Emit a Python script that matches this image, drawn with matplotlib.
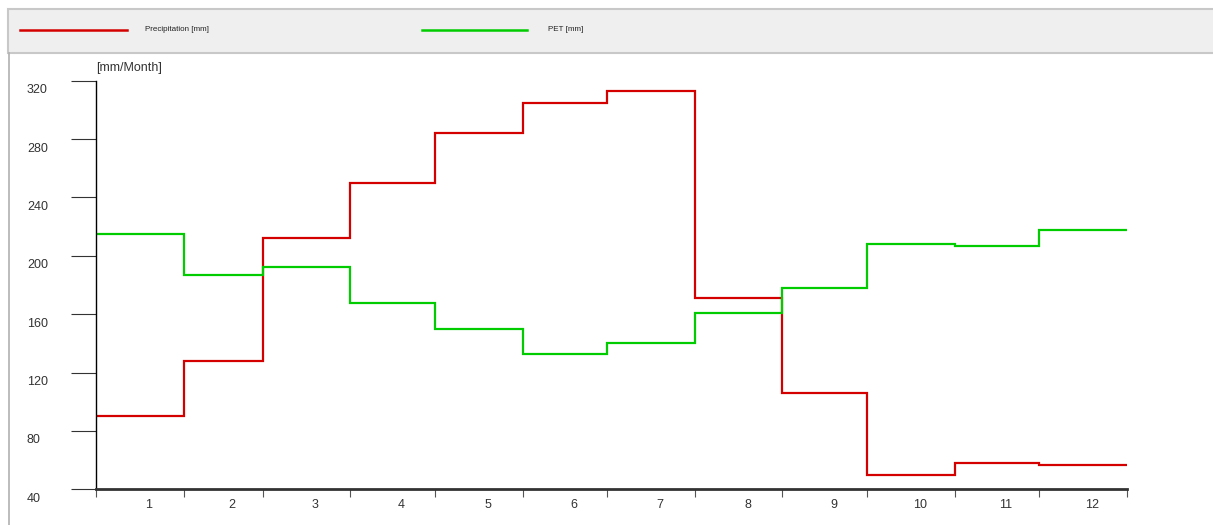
import numpy as np
import matplotlib.pyplot as plt
from matplotlib.lines import Line2D
from matplotlib.patches import Rectangle
from matplotlib.transforms import ScaledTranslation

plt.rcParams['font.family'] = ['Liberation Sans', 'DejaVu Sans']

# monthly values
months = ['1', '2', '3', '4', '5', '6', '7', '8', '9', '10', '11', '12']
days_in_month = [31, 28, 31, 30, 31, 30, 31, 31, 30, 31, 30, 31]
precipitation = [90, 128, 212, 250, 284, 305, 313, 171, 106, 50, 58, 56.5]
pet = [215, 187, 192, 168, 150, 133, 140, 161, 178, 208, 207, 218]
y_ticks = [40, 80, 120, 160, 200, 240, 280, 320]

red = '#d40000'
green = '#00cc00'

edges = np.concatenate([[0], np.cumsum(days_in_month)])
mids = (edges[:-1] + edges[1:]) / 2

W, H = 1213, 525
fig = plt.figure(figsize=(W / 100, H / 100), dpi=100)
ax = fig.add_axes([96 / W, 1 - 489.3 / H, (1127 - 96) / W, (489.3 - 80.7) / H])

ax.stairs(precipitation, edges, baseline=None, color=red, lw=1.6)
ax.stairs(pet, edges, baseline=None, color=green, lw=1.6)

ax.set_xlim(edges[0], edges[-1])
ax.set_ylim(y_ticks[0], y_ticks[-1])

for s in ['top', 'right']:
    ax.spines[s].set_visible(False)
ax.spines['bottom'].set_color('#333333')
ax.spines['bottom'].set_linewidth(2.0)
ax.spines['left'].set_color('black')
ax.spines['left'].set_linewidth(1.0)

# x: ticks on month boundaries, labels in the middle of each month
ax.set_xticks(edges)
ax.set_xticklabels([])
ax.set_xticks(mids, minor=True)
ax.set_xticklabels(months, minor=True)
ax.tick_params(axis='x', which='major', length=6, width=0.8, color='#555555')
ax.tick_params(axis='x', which='minor', length=0, pad=7, labelsize=9, labelcolor='#333333')
shift_x = ScaledTranslation(9 / 100, 0, fig.dpi_scale_trans)
for lab in ax.get_xticklabels(minor=True):
    lab.set_transform(lab.get_transform() + shift_x)

# y: long outward ticks, labels left aligned and sitting a bit under the tick
ax.set_yticks(y_ticks)
ax.set_yticklabels([str(v) for v in y_ticks])
ax.tick_params(axis='y', length=18, width=0.8, color='#333333', pad=31.7,
               labelsize=9, labelcolor='#333333')
shift_y = ScaledTranslation(0, -8 / 100, fig.dpi_scale_trans)
for lab in ax.get_yticklabels():
    lab.set_horizontalalignment('left')
    lab.set_transform(lab.get_transform() + shift_y)

ax.annotate('[mm/Month]', xy=(0, 1), xycoords='axes fraction',
            xytext=(0, 9.5), textcoords='offset points',
            ha='left', va='center', fontsize=9, color='#333333')

# legend band at the top and the frame line on the left
fig.add_artist(Rectangle((8 / W, 1 - 53 / H), 1.0, 44 / H, transform=fig.transFigure,
                         facecolor='#efefef', edgecolor='#c8c8c8', lw=1.5))
fig.add_artist(Line2D([8.5 / W, 8.5 / W], [0, 1 - 53 / H], transform=fig.transFigure,
                      color='#b0b0b0', lw=1.2))

fig.add_artist(Line2D([20 / W, 127 / W], [1 - 30 / H] * 2, transform=fig.transFigure,
                      color=red, lw=1.8))
fig.text(145 / W, 1 - 29.5 / H, 'Precipitation [mm]', fontsize=5.8,
         va='center', ha='left', color='#222222')
fig.add_artist(Line2D([422 / W, 527 / W], [1 - 30 / H] * 2, transform=fig.transFigure,
                      color=green, lw=1.8))
fig.text(548 / W, 1 - 29.5 / H, 'PET [mm]', fontsize=5.8,
         va='center', ha='left', color='#222222')

fig.savefig('out.png', dpi=100)
